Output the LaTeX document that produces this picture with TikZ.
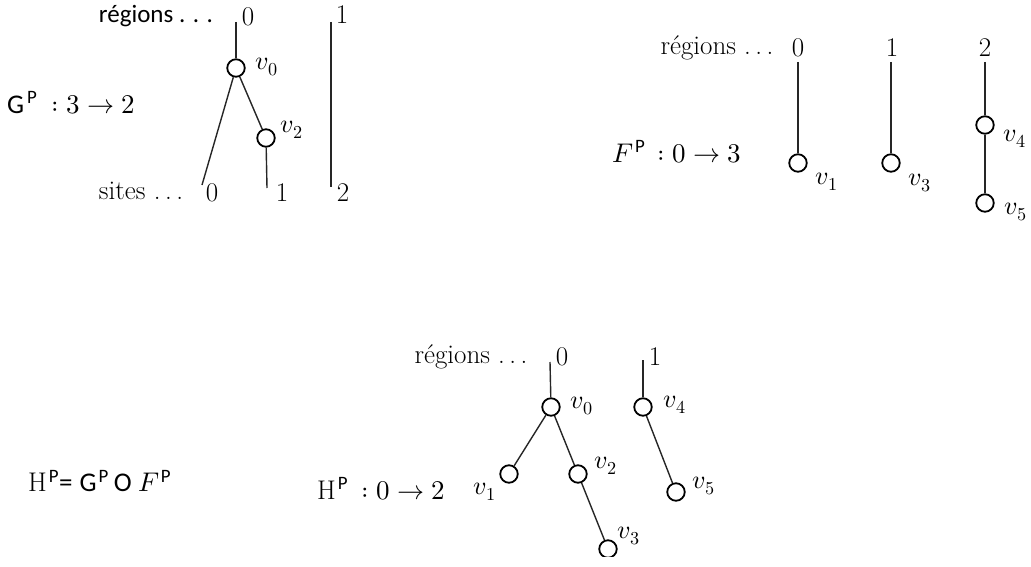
\documentclass[tikz,border=0pt]{standalone}
\usepackage{fontspec}
\usepackage{unicode-math}
\setmathfont{Latin Modern Math}
\newfontfamily\calib{Carlito}
\newcommand{\spdots}{.\kern4.5pt.\kern4.5pt.}
\tikzset{
  txt/.style={inner sep=0pt,font=\fontsize{27}{32}\selectfont},
  lbl/.style={inner sep=0pt,font=\fontsize{26}{31}\selectfont},
  vtx/.style={circle,draw=black,line width=1.8pt,minimum size=17.5pt,inner sep=0pt},
  edge/.style={draw=black!85,line width=1.4pt}
}
\begin{document}
\begin{tikzpicture}[x=1pt,y=-1pt]
\useasboundingbox (0,0) rectangle (1031,567);
\begin{scope}
\clip (-5,-5) rectangle (1036,556);
% ---------------- top left: G^P ----------------
\node[txt] (tlreg) at (156,16) {\fontsize{25}{30}\calib régions . . .};
\node[txt] (tlr0) at (248,17) {0};
\node[txt] (tlr1) at (342,15) {1};
\node[txt] (tlsites) at (141,191) {sites \spdots};
\node[txt] (tls0l) at (212,193) {0};
\node[txt] (tls1l) at (282,193) {1};
\node[txt] (tls2l) at (343,193) {2};
\node[txt,anchor=west] (tlG) at (7,103) {{\calib G\kern3pt\textsuperscript{P}}\kern14pt$:3\to2$};
\coordinate (tl0top) at (236,22);
\coordinate (tl1top) at (331,22);
\coordinate (tls0) at (202,185);
\coordinate (tls1) at (267,188);
\coordinate (tls2) at (331,187);
\node[vtx] (tlv0) at (236,68) {};
\node[vtx] (tlv2) at (266,138) {};
\node[lbl] (tlv0l) at (267,67) {$v_0$};
\node[lbl] (tlv2l) at (292,130) {$v_2$};
\draw[edge] (tl0top) -- (tlv0);
\draw[edge] (tlv0) -- (tls0);
\draw[edge] (tlv0) -- (tlv2);
\draw[edge] (tlv2) -- (tls1);
\draw[edge] (tl1top) -- (tls2);
% ---------------- top right: F^P ----------------
\node[txt] (trreg) at (717,48) {régions \spdots};
\node[txt] (trr0) at (798,48) {0};
\node[txt] (trr1) at (892,48) {1};
\node[txt] (trr2) at (985,48) {2};
\node[txt,anchor=west] (trF) at (612,152) {$F$\kern2pt\textsuperscript{\calib P}\kern12pt$:0\to3$};
\coordinate (tr0top) at (798,62);
\coordinate (tr1top) at (891,62);
\coordinate (tr2top) at (985,62);
\node[vtx] (trv1) at (798,163) {};
\node[vtx] (trv3) at (891,163) {};
\node[vtx] (trv4) at (985,125) {};
\node[vtx] (trv5) at (985,203) {};
\node[lbl] (trv1l) at (827,182) {$v_1$};
\node[lbl] (trv3l) at (920,183) {$v_3$};
\node[lbl] (trv4l) at (1015,139) {$v_4$};
\node[lbl] (trv5l) at (1016,212) {$v_5$};
\draw[edge] (tr0top) -- (trv1);
\draw[edge] (tr1top) -- (trv3);
\draw[edge] (tr2top) -- (trv4);
\draw[edge] (trv4) -- (trv5);
% ---------------- bottom: H^P ----------------
\node[txt,anchor=west] (bHdef) at (28,481) {H\kern2pt\textsuperscript{\calib P}{\calib=\kern7pt G\kern2pt\textsuperscript{P}\kern5pt O}\kern7pt$F$\kern1pt\textsuperscript{\calib P}};
\node[txt,anchor=west] (bH) at (317,489) {H\kern2pt\textsuperscript{\calib P}\kern13pt$:0\to2$};
\node[txt] (breg) at (471,357) {régions \spdots};
\node[txt] (br0) at (562,357) {0};
\node[txt] (br1) at (655,357) {1};
\coordinate (b0top) at (550,362);
\coordinate (b1top) at (643,360);
\node[vtx] (bv0) at (551,407) {};
\node[vtx] (bv1) at (509,474) {};
\node[vtx] (bv2) at (578,474) {};
\node[vtx] (bv3) at (608,549) {};
\node[vtx] (bv4) at (643,407) {};
\node[vtx] (bv5) at (676,492) {};
\node[lbl] (bv0l) at (582,406) {$v_0$};
\node[lbl] (bv1l) at (485,492) {$v_1$};
\node[lbl] (bv2l) at (606,466) {$v_2$};
\node[lbl] (bv3l) at (629,536) {$v_3$};
\node[lbl] (bv4l) at (675,405) {$v_4$};
\node[lbl] (bv5l) at (704,486) {$v_5$};
\draw[edge] (b0top) -- (bv0);
\draw[edge] (bv0) -- (bv1);
\draw[edge] (bv0) -- (bv2);
\draw[edge] (bv2) -- (bv3);
\draw[edge] (b1top) -- (bv4);
\draw[edge] (bv4) -- (bv5);
\end{scope}
\end{tikzpicture}
\end{document}
